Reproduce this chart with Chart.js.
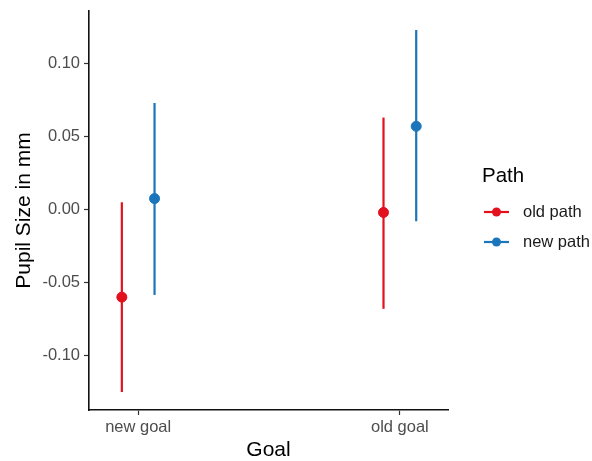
<!DOCTYPE html>
<html>
<head>
<meta charset="utf-8">
<script src="https://cdn.jsdelivr.net/npm/chart.js@4/dist/chart.umd.min.js"></script>
<style>
  html, body { margin: 0; padding: 0; background: #fff; }
  #wrap { width: 592px; height: 461px; }
</style>
</head>
<body>
<div id="wrap"><canvas id="chart"></canvas></div>
<script>
// data
const goals = ["new goal", "old goal"];
const paths = ["old path", "new path"];
const oldPathMean = [-0.060, -0.002];
const oldPathLow = [-0.125, -0.068];
const oldPathHigh = [0.005, 0.063];
const newPathMean = [0.0075, 0.057];
const newPathLow = [-0.0585, -0.008];
const newPathHigh = [0.073, 0.123];
const yTicks = [-0.10, -0.05, 0.00, 0.05, 0.10];

const colors = ["#e3101e", "#1b75bb"];
const dodge = 0.0625;
const font = "'Liberation Sans', Arial, sans-serif";

function series(means, offset) {
  return means.map((m, i) => ({ x: i + 1 + offset, y: m }));
}

const lows = [oldPathLow, newPathLow];
const highs = [oldPathHigh, newPathHigh];

// vertical error bars drawn through the scales
const errorBars = {
  id: "errorBars",
  beforeDatasetsDraw(chart) {
    const ctx = chart.ctx;
    const xs = chart.scales.x, ys = chart.scales.y;
    chart.data.datasets.forEach((ds, d) => {
      ctx.save();
      ctx.strokeStyle = ds.borderColor;
      ctx.lineWidth = 2.2;
      ds.data.forEach((p, i) => {
        const px = xs.getPixelForValue(p.x);
        ctx.beginPath();
        ctx.moveTo(px, ys.getPixelForValue(lows[d][i]));
        ctx.lineTo(px, ys.getPixelForValue(highs[d][i]));
        ctx.stroke();
      });
      ctx.restore();
    });
  }
};

// ggplot-like legend at the right
const sideLegend = {
  id: "sideLegend",
  afterDraw(chart) {
    const ctx = chart.ctx;
    ctx.save();
    ctx.fillStyle = "#000";
    ctx.font = "20.5px " + font;
    ctx.textBaseline = "middle";
    ctx.fillText("Path", 482, 176);
    paths.forEach((name, i) => {
      const y = 212 + i * 30;
      ctx.strokeStyle = colors[i];
      ctx.lineWidth = 2.2;
      ctx.beginPath();
      ctx.moveTo(484, y);
      ctx.lineTo(509, y);
      ctx.stroke();
      ctx.fillStyle = colors[i];
      ctx.beginPath();
      ctx.arc(496.5, y, 4.5, 0, Math.PI * 2);
      ctx.fill();
      ctx.fillStyle = "#1a1a1a";
      ctx.font = "16.5px " + font;
      ctx.fillText(name, 523, y);
    });
    ctx.restore();
  }
};

new Chart("chart", {
  type: "scatter",
  data: {
    datasets: [
      {
        label: paths[0],
        data: series(oldPathMean, -dodge),
        borderColor: colors[0],
        backgroundColor: colors[0],
        pointRadius: 5,
        pointHoverRadius: 5
      },
      {
        label: paths[1],
        data: series(newPathMean, dodge),
        borderColor: colors[1],
        backgroundColor: colors[1],
        pointRadius: 5,
        pointHoverRadius: 5
      }
    ]
  },
  options: {
    responsive: true,
    maintainAspectRatio: false,
    animation: false,
    events: [],
    layout: { padding: { top: 11, right: 144, left: 0, bottom: 0 } },
    plugins: {
      legend: { display: false },
      tooltip: { enabled: false }
    },
    scales: {
      x: {
        type: "linear",
        min: 0.812,
        max: 2.184,
        afterBuildTicks: (s) => { s.ticks = goals.map((g, i) => ({ value: i + 1 })); },
        afterFit: (s) => { s.height = 51; s.paddingLeft = 0; s.paddingRight = 0; },
        ticks: {
          callback: (v) => goals[Math.round(v) - 1],
          color: "#4d4d4d",
          font: { family: font, size: 16.5 },
          padding: 3
        },
        grid: { drawOnChartArea: false, tickLength: 5, color: "#333", tickWidth: 1.2 },
        border: { color: "#111", width: 1.6 },
        title: {
          display: true,
          text: "Goal",
          color: "#000",
          font: { family: font, size: 21 },
          padding: { top: 2, bottom: -2 }
        }
      },
      y: {
        min: -0.1373,
        max: 0.136,
        afterBuildTicks: (s) => { s.ticks = yTicks.map((v) => ({ value: v })); },
        afterFit: (s) => { s.width = 89; s.paddingTop = 0; s.paddingBottom = 0; },
        ticks: {
          callback: (v) => v.toFixed(2),
          color: "#4d4d4d",
          font: { family: font, size: 16.5 },
          padding: 4
        },
        grid: { drawOnChartArea: false, tickLength: 5, color: "#333", tickWidth: 1.2 },
        border: { color: "#111", width: 1.6 },
        title: {
          display: true,
          text: "Pupil Size in mm",
          color: "#000",
          font: { family: font, size: 21 },
          padding: { top: 12, bottom: 0 }
        }
      }
    }
  },
  plugins: [errorBars, sideLegend]
});
</script>
</body>
</html>
